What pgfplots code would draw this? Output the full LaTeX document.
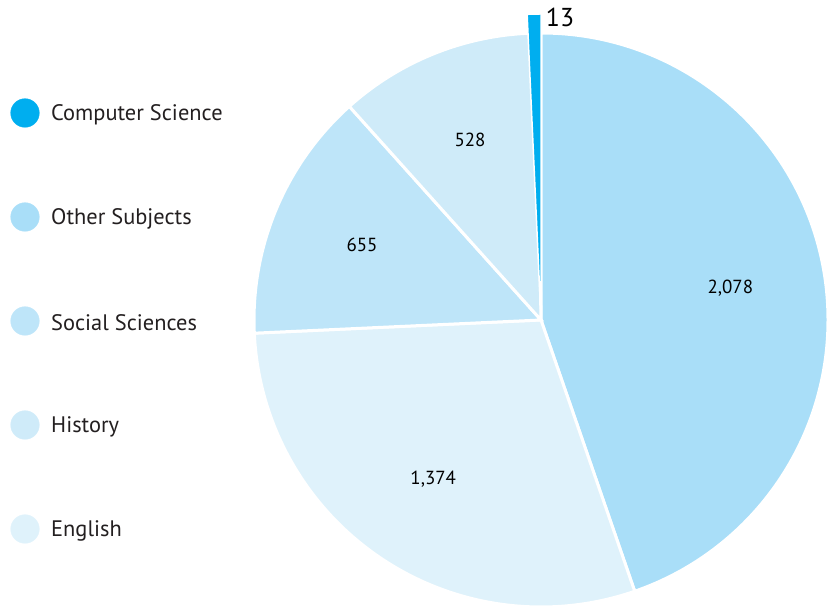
\documentclass[border=0pt]{standalone}
\usepackage{fontspec}
\setmainfont{PT Sans}
\usepackage{pgfplots}
\pgfplotsset{compat=1.18}
\definecolor{cCS}{RGB}{0,174,239}
\definecolor{cOther}{RGB}{169,222,248}
\definecolor{cSoc}{RGB}{190,229,249}
\definecolor{cHis}{RGB}{207,235,249}
\definecolor{cEng}{RGB}{223,242,251}
\definecolor{txt}{RGB}{35,31,32}

% slice values
\def\vOther{2078}
\def\vEng{1374}
\def\vSoc{655}
\def\vHis{528}
\def\vCS{13}

\begin{document}
\begin{tikzpicture}
% angles, clockwise from the top
\pgfmathsetmacro\tot{\vOther+\vEng+\vSoc+\vHis+\vCS}
\pgfmathsetmacro\aA{90}
\pgfmathsetmacro\aB{\aA-360*(\vOther/\tot)}
\pgfmathsetmacro\aC{\aB-360*(\vEng/\tot)}
\pgfmathsetmacro\aD{\aC-360*(\vSoc/\tot)}
\pgfmathsetmacro\aE{\aD-360*(\vHis/\tot)}
\pgfmathsetmacro\mA{(\aA+\aB)/2}
\pgfmathsetmacro\mB{(\aB+\aC)/2}
\pgfmathsetmacro\mC{(\aC+\aD)/2}
\pgfmathsetmacro\mD{(\aD+\aE)/2}
% tiny slice gets a minimum drawn width
\pgfmathsetmacro\aCS{90+max(360*(\vCS/\tot),2.6)}
\begin{axis}[
    width=827bp, height=606bp, scale only axis,
    xmin=0, xmax=827, ymin=0, ymax=606,
    hide axis, clip=false,
    every node/.style={text=txt},
]
\fill[cOther, draw=white, line width=3bp] (axis cs:541,286) -- ++(\aA:287bp)
    arc[start angle=\aA, end angle=\aB, radius=287bp] -- cycle;
\fill[cEng, draw=white, line width=3bp] (axis cs:541,286) -- ++(\aB:287bp)
    arc[start angle=\aB, end angle=\aC, radius=287bp] -- cycle;
\fill[cSoc, draw=white, line width=3bp] (axis cs:541,286) -- ++(\aC:287bp)
    arc[start angle=\aC, end angle=\aD, radius=287bp] -- cycle;
\fill[cHis, draw=white, line width=3bp] (axis cs:541,286) -- ++(\aD:287bp)
    arc[start angle=\aD, end angle=\aE, radius=287bp] -- cycle;
% small slice, drawn longer than the rest
\fill[cCS, draw=white, line width=1.5bp] (axis cs:541,286) -- ++(\aCS:306bp)
    arc[start angle=\aCS, end angle=90, radius=306bp] -- cycle;

\path (axis cs:541,286) ++(\mA:192bp) node[font=\fontsize{19}{22}\selectfont] {2,078};
\path (axis cs:541,286) ++(\mB:192bp) node[font=\fontsize{19}{22}\selectfont] {1,374};
\path (axis cs:541,286) ++(\mC:194bp) node[font=\fontsize{19}{22}\selectfont] {655};
\path (axis cs:541,286) ++(\mD:194bp) node[font=\fontsize{19}{22}\selectfont] {528};
\node[font=\fontsize{26}{30}\selectfont] at (axis cs:560,589) {13};

% legend
\addplot[only marks, mark=*, mark size=14.3bp, color=cCS] coordinates {(25,493)};
\addplot[only marks, mark=*, mark size=14.3bp, color=cOther] coordinates {(25,389)};
\addplot[only marks, mark=*, mark size=14.3bp, color=cSoc] coordinates {(25,285)};
\addplot[only marks, mark=*, mark size=14.3bp, color=cHis] coordinates {(25,181)};
\addplot[only marks, mark=*, mark size=14.3bp, color=cEng] coordinates {(25,77)};
\begin{scope}[every node/.style={anchor=west, inner sep=0pt, text=txt, font=\fontsize{22.5}{26}\selectfont}]
\node at (axis cs:51,491) {Computer Science};
\node at (axis cs:51,387) {Other Subjects};
\node at (axis cs:51,283) {Social Sciences};
\node at (axis cs:51,179) {History};
\node at (axis cs:51,75) {English};
\end{scope}
\end{axis}
\pgfresetboundingbox
\path (0,0) rectangle (827bp,606bp);
\end{tikzpicture}
\end{document}
